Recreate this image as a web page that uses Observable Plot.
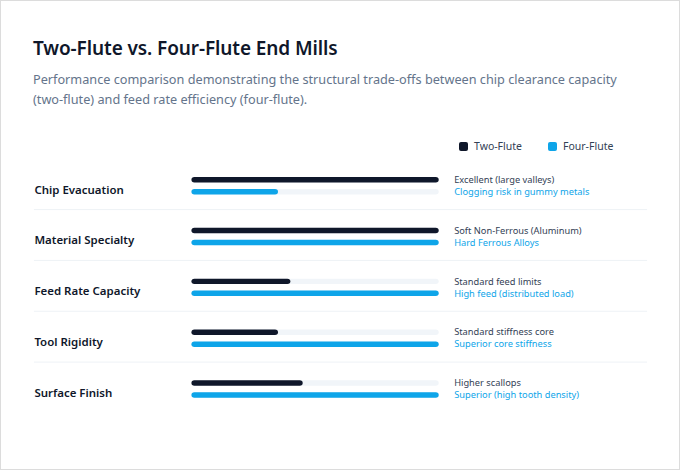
<!DOCTYPE html>
<html>
<head>
<meta charset="utf-8">
<script src="https://cdn.jsdelivr.net/npm/d3@7"></script>
<script src="https://cdn.jsdelivr.net/npm/@observablehq/plot@0.6"></script>
<style>
  html, body { margin: 0; padding: 0; background: #fff; }
  body { font-family: "Noto Sans", "Open Sans", sans-serif; }
  #card {
    position: relative; width: 680px; height: 470px; box-sizing: border-box;
    border: 1px solid #dcdcdc; background: #fff; overflow: hidden;
  }
  h1 {
    position: absolute; left: 32px; top: 35px; margin: 0;
    font-size: 19px; line-height: 24px; font-weight: 600; color: #0f172a;
    letter-spacing: -0.1px;
  }
  .sub {
    position: absolute; left: 32px; top: 68px; width: 610px; margin: 0;
    font-size: 12.7px; line-height: 20px; color: #64748b;
  }
  .legend {
    position: absolute; left: 458px; top: 138px; display: flex; gap: 26px;
    font-size: 10.5px; line-height: 14px; color: #334155;
  }
  .legend span { display: inline-flex; align-items: center; gap: 6px; }
  .legend i { display: inline-block; width: 9px; height: 9px; border-radius: 2px; }
  #chart { position: absolute; left: 0; top: 152px; }
</style>
</head>
<body>
<div id="card">
  <h1>Two-Flute vs. Four-Flute End Mills</h1>
  <p class="sub">Performance comparison demonstrating the structural trade-offs between chip clearance capacity (two-flute) and feed rate efficiency (four-flute).</p>
  <div class="legend" id="legend"></div>
  <div id="chart"></div>
</div>
<script>
// Criteria compared, one row each
const categories = ["Chip Evacuation", "Material Specialty", "Feed Rate Capacity", "Tool Rigidity", "Surface Finish"];
// Relative performance score (0–100)
const twoFlute = [100, 100, 40, 35, 45];
const fourFlute = [35, 100, 100, 100, 100];
// Notes shown beside each pair of bars
const twoFluteNotes = ["Excellent (large valleys)", "Soft Non-Ferrous (Aluminum)", "Standard feed limits", "Standard stiffness core", "Higher scallops"];
const fourFluteNotes = ["Clogging risk in gummy metals", "Hard Ferrous Alloys", "High feed (distributed load)", "Superior core stiffness", "Superior (high tooth density)"];
const seriesNames = ["Two-Flute", "Four-Flute"];
const seriesColors = ["#0f172a", "#0ea5e9"];

const rows = categories.map((category, i) => ({
  category,
  two: twoFlute[i],
  four: fourFlute[i],
  twoNote: twoFluteNotes[i],
  fourNote: fourFluteNotes[i]
}));

// Legend
const legend = document.getElementById("legend");
seriesNames.forEach((name, i) => {
  const s = document.createElement("span");
  s.innerHTML = `<i style="background:${seriesColors[i]}"></i>${name}`;
  legend.appendChild(s);
});

const font = '"Noto Sans", "Open Sans", sans-serif';
const barTwo = { insetTop: 19, insetBottom: 26.5 };
const barFour = { insetTop: 31, insetBottom: 14.5 };

const chart = Plot.plot({
  width: 680,
  height: 300,
  marginTop: 3,
  marginBottom: 39,
  marginLeft: 33,
  marginRight: 32,
  style: { fontFamily: font, background: "transparent" },
  x: { domain: [0, 100], range: [191, 439], axis: null },
  y: { domain: categories, axis: null, padding: 0 },
  marks: [
    // row separators
    Plot.ruleY(categories.slice(0, -1), { dy: 25.75, stroke: "#eef2f6", strokeWidth: 1 }),
    // tracks
    Plot.barX(rows, { y: "category", x1: 0, x2: 100, fill: "#f1f5f9", rx: 3, ...barTwo }),
    Plot.barX(rows, { y: "category", x1: 0, x2: 100, fill: "#f1f5f9", rx: 3, ...barFour }),
    // values
    Plot.barX(rows, { y: "category", x1: 0, x2: "two", fill: seriesColors[0], rx: 3, ...barTwo }),
    Plot.barX(rows, { y: "category", x1: 0, x2: "four", fill: seriesColors[1], rx: 3, ...barFour }),
    // category labels
    Plot.text(rows, {
      y: "category", text: "category", frameAnchor: "left", textAnchor: "start",
      dy: 6, fontSize: 11.5, fontWeight: 600, fill: "#0f172a"
    }),
    // notes
    Plot.text(rows, {
      y: "category", x: 100, text: "twoNote", textAnchor: "start",
      dx: 15, dy: -4, fontSize: 9.3, fill: "#334155"
    }),
    Plot.text(rows, {
      y: "category", x: 100, text: "fourNote", textAnchor: "start",
      dx: 15, dy: 8, fontSize: 9.3, fill: seriesColors[1]
    })
  ]
});
document.getElementById("chart").appendChild(chart);
</script>
</body>
</html>
